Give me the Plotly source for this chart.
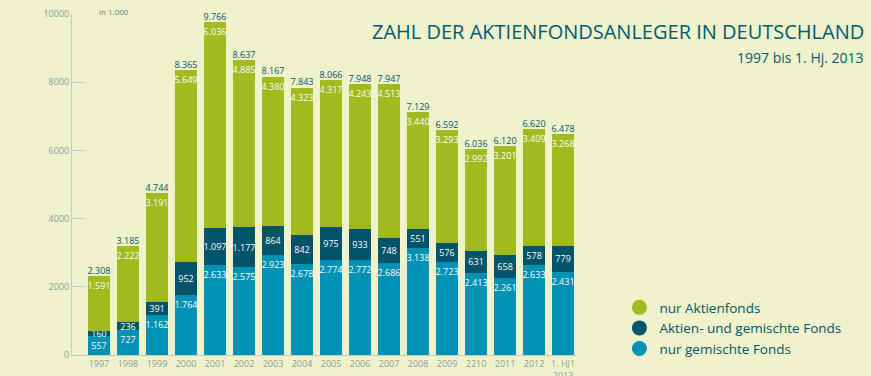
import plotly.graph_objects as go

years = ["1997", "1998", "1999", "2000", "2001", "2002", "2003", "2004", "2005",
         "2006", "2007", "2008", "2009", "2210", "2011", "2012", "1. HJ1<br>2013"]
nur_gemischte = [557, 727, 1162, 1764, 2633, 2575, 2923, 2678, 2774, 2772, 2686,
                 3138, 2723, 2413, 2261, 2633, 2431]
aktien_und_gemischte = [160, 236, 391, 952, 1097, 1177, 864, 842, 975, 933, 748,
                        551, 576, 631, 658, 578, 779]
nur_aktien = [1591, 2222, 3191, 5649, 6036, 4885, 4380, 4323, 4317, 4243, 4513,
              3440, 3293, 2992, 3201, 3409, 3268]
totals = [2308, 3185, 4744, 8365, 9766, 8637, 8167, 7843, 8066, 7948, 7947,
          7129, 6592, 6036, 6120, 6620, 6478]
y_ticks = [0, 2000, 4000, 6000, 8000, 10000]

C_GREEN = "#a0ba20"
C_DARK = "#005469"
C_BLUE = "#0091b5"
BG = "#eff2cb"
FONT = "Open Sans"
AXIS = "#c3ccc4"
TICKTXT = "#8a9a9e"


def de(v):
    return f"{v:,}".replace(",", ".")


x_idx = list(range(len(years)))
fig = go.Figure()
common = dict(width=0.76, textangle=0, constraintext="none",
              textfont=dict(color="white", size=9, family=FONT), hoverinfo="skip",
              showlegend=False)
fig.add_trace(go.Bar(x=x_idx, y=nur_gemischte, marker=dict(color=C_BLUE, line=dict(width=0)),
                     text=[de(v) for v in nur_gemischte], textposition="inside",
                     insidetextanchor="end", **common))
fig.add_trace(go.Bar(x=x_idx, y=aktien_und_gemischte, marker=dict(color=C_DARK, line=dict(width=0)),
                     text=[de(v) for v in aktien_und_gemischte], textposition="inside",
                     insidetextanchor="middle", **common))
fig.add_trace(go.Bar(x=x_idx, y=nur_aktien, marker=dict(color=C_GREEN, line=dict(width=0)),
                     text=[de(v) for v in nur_aktien], textposition="inside",
                     insidetextanchor="end", **common))

# totals above bars
fig.add_trace(go.Scatter(x=x_idx, y=totals, mode="text", text=[de(v) for v in totals],
                         textposition="top center", cliponaxis=False,
                         textfont=dict(color=C_DARK, size=9, family=FONT),
                         hoverinfo="skip", showlegend=False))

# legend entries (circles)
for name, col in [("nur Aktienfonds", C_GREEN), ("Aktien- und gemischte Fonds", C_DARK),
                  ("nur gemischte Fonds", C_BLUE)]:
    fig.add_trace(go.Scatter(x=[None], y=[None], mode="markers", name=name,
                             marker=dict(color=col, size=15, symbol="circle")))

fig.update_layout(
    width=871, height=376,
    barmode="stack",
    paper_bgcolor=BG, plot_bgcolor=BG,
    margin=dict(l=72, r=294, t=14, b=21, autoexpand=False),
    font=dict(family=FONT, color=C_DARK),
    xaxis=dict(range=[-0.93, 16.48], tickmode="array", tickvals=x_idx, ticktext=years,
               showgrid=False, zeroline=False, showline=True, linecolor=AXIS,
               linewidth=1, ticks="", tickfont=dict(size=9, color=TICKTXT, family=FONT),
               fixedrange=True, automargin=False),
    yaxis=dict(range=[0, 10000], tickvals=y_ticks, tickformat="d", showgrid=False,
               zeroline=False, showline=True, linecolor=AXIS, linewidth=1,
               ticks="inside", ticklen=13, tickcolor=AXIS,
               tickfont=dict(size=9, color=TICKTXT, family=FONT), fixedrange=True,
               automargin=False),
    legend=dict(x=1.084, y=0.079, xanchor="left", yanchor="middle", traceorder="normal",
                font=dict(size=13.5, color=C_DARK, family=FONT), bgcolor="rgba(0,0,0,0)",
                itemwidth=30, tracegroupgap=0),
    annotations=[
        dict(text="ZAHL DER AKTIENFONDSANLEGER IN DEUTSCHLAND", xref="paper", yref="paper",
             x=1.572, y=0.950, xanchor="right", yanchor="middle",
             showarrow=False, font=dict(size=20, color="#005a73", family=FONT)),
        dict(text="1997 bis 1. Hj. 2013", xref="paper", yref="paper", x=1.572, y=0.871,
             xanchor="right", yanchor="middle", showarrow=False,
             font=dict(size=14, color="#005a73", family=FONT)),
        dict(text="in 1.000", xref="x", yref="paper", x=-0.07, y=1.006, xanchor="left",
             yanchor="middle", showarrow=False, font=dict(size=8, color="#5a7a88", family=FONT)),
    ],
)

fig.write_html("out.html", config={"displayModeBar": False},
               post_script="document.body.style.margin='0';"
                           "document.body.style.background='#eff2cb';")
